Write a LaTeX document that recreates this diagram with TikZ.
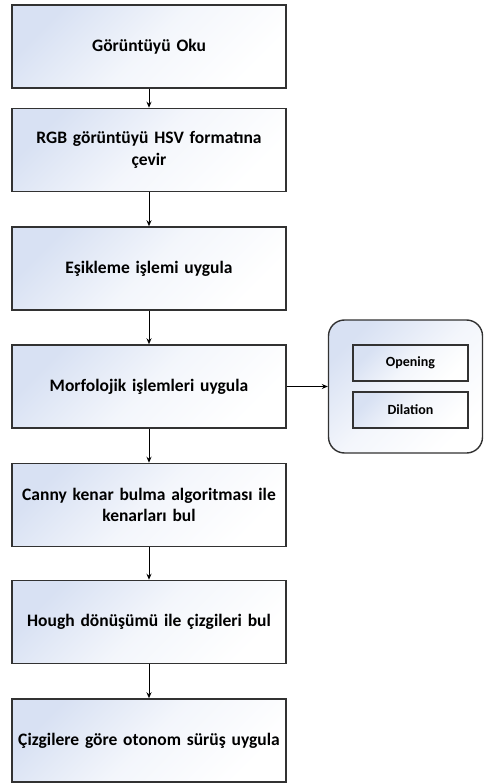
\documentclass[tikz,border=0pt]{standalone}
\usepackage{fontspec}
\setmainfont{Carlito}
\usetikzlibrary{arrows.meta}
\definecolor{edge}{RGB}{50,50,50}
\definecolor{tint}{RGB}{216,225,243}
\tikzset{
  x=1pt, y=1pt,
  shadefill/.style={top color=tint, bottom color=white, middle color=white!70!tint, shading angle=45},
  stepbox/.style={draw=edge, line width=1.5pt, minimum width=274pt, minimum height=83pt,
    shadefill, inner sep=0pt,
    font=\bfseries\fontsize{17.5}{21.5}\selectfont, align=center, text width=272pt},
  opbox/.style={draw=edge, line width=1.4pt, minimum width=115pt, minimum height=36pt,
    shadefill, inner sep=0pt,
    font=\bfseries\fontsize{14}{16}\selectfont},
  group/.style={draw=edge, line width=1.4pt, rounded corners=16pt, minimum width=154pt, minimum height=133pt,
    shadefill, inner sep=0pt},
  flow/.style={draw=black, line width=1pt, -{Stealth[length=6pt,width=5pt]}}
}
\begin{document}
\begin{tikzpicture}
\useasboundingbox (0,0) rectangle (483,-783);
\node[stepbox] (read) at (149,-46.5) {Görüntüyü Oku};
\node[stepbox] (hsv) at (149,-150) {RGB görüntüyü HSV formatına\\çevir};
\node[stepbox] (thr) at (149,-268.5) {Eşikleme işlemi uygula};
\node[stepbox] (morph) at (149,-386.5) {Morfolojik işlemleri uygula};
\node[stepbox] (canny) at (149,-505) {Canny kenar bulma algoritması ile\\kenarları bul};
\node[stepbox] (hough) at (149,-622) {Hough dönüşümü ile çizgileri bul};
\node[stepbox] (drive) at (149,-740.5) {Çizgilere göre otonom sürüş uygula};
\node[group] (ops) at (405.5,-386.5) {};
\node[opbox] (open) at (410.5,-363) {Opening};
\node[opbox] (dil) at (410.5,-410) {Dilation};
\draw[flow] (read) -- (hsv);
\draw[flow] (hsv) -- (thr);
\draw[flow] (thr) -- (morph);
\draw[flow] (morph) -- (canny);
\draw[flow] (canny) -- (hough);
\draw[flow] (hough) -- (drive);
\draw[flow] (morph) -- (ops);
\end{tikzpicture}
\end{document}
